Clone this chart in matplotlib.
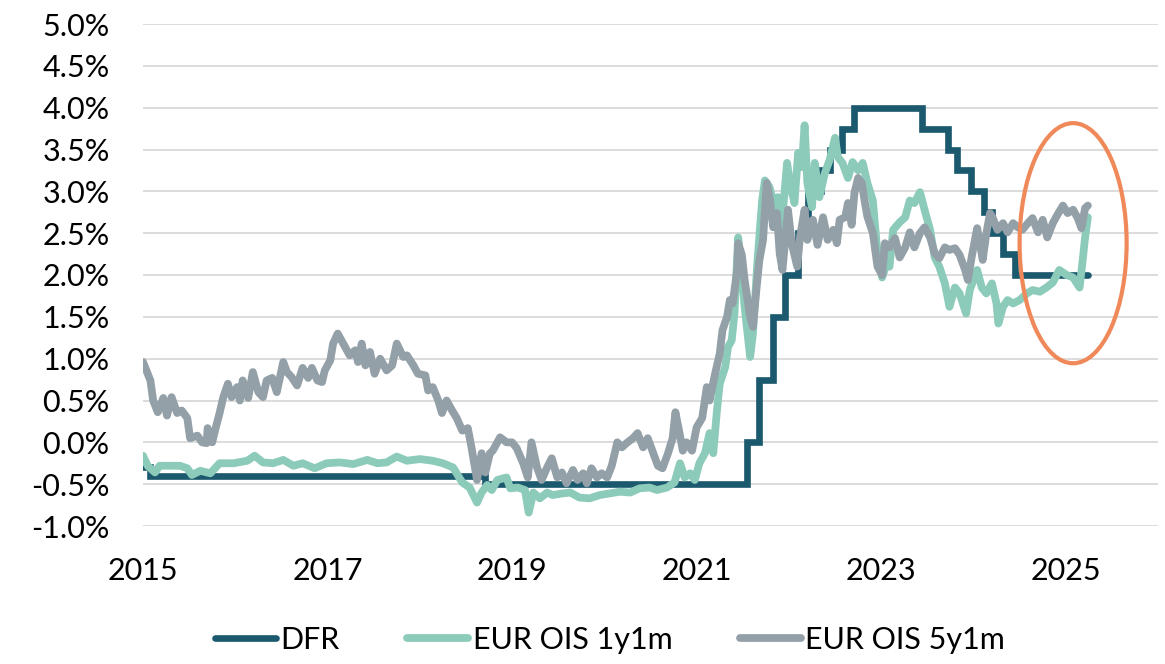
import matplotlib
matplotlib.use("Agg")
import matplotlib.pyplot as plt
from matplotlib.patches import Ellipse
import numpy as np

# deposit facility rate: step start (chart years) and level in %
dfr_dates = [2015.00, 2015.08, 2018.71, 2021.55, 2021.68, 2021.83, 2021.96, 2022.10,
             2022.21, 2022.35, 2022.45, 2022.57, 2022.70, 2023.44, 2023.72, 2023.82,
             2023.97, 2024.11, 2024.20, 2024.32, 2024.45, 2025.24]
dfr_rates = [-0.3, -0.4, -0.5, 0.0, 0.75, 1.5, 2.0, 2.5,
             3.0, 3.25, 3.5, 3.75, 4.0, 3.75, 3.5, 3.25,
             3.0, 2.75, 2.5, 2.25, 2.0, 2.0]

ois1_dates = [2015.00, 2015.05, 2015.13, 2015.18, 2015.29, 2015.40, 2015.48, 2015.53, 2015.62, 2015.73,
              2015.83, 2015.98, 2016.13, 2016.21, 2016.30, 2016.41, 2016.52, 2016.63, 2016.73, 2016.86,
              2016.99, 2017.13, 2017.28, 2017.43, 2017.54, 2017.64, 2017.75, 2017.86, 2018.00, 2018.14,
              2018.25, 2018.36, 2018.46, 2018.54, 2018.62, 2018.67, 2018.73, 2018.78, 2018.84, 2018.94,
              2018.98, 2019.06, 2019.14, 2019.18, 2019.23, 2019.30, 2019.38, 2019.44, 2019.55, 2019.63,
              2019.73, 2019.84, 2019.95, 2020.06, 2020.17, 2020.28, 2020.38, 2020.49, 2020.57, 2020.68,
              2020.76, 2020.82, 2020.87, 2020.93, 2020.98, 2021.03, 2021.09, 2021.14, 2021.18, 2021.22,
              2021.25, 2021.31, 2021.34, 2021.38, 2021.41, 2021.45, 2021.49, 2021.52, 2021.58, 2021.61,
              2021.66, 2021.71, 2021.74, 2021.79, 2021.85, 2021.88, 2021.92, 2021.98, 2022.01, 2022.06,
              2022.10, 2022.14, 2022.17, 2022.20, 2022.25, 2022.28, 2022.33, 2022.39, 2022.44, 2022.50,
              2022.53, 2022.58, 2022.64, 2022.69, 2022.75, 2022.80, 2022.85, 2022.91, 2022.95, 2023.01,
              2023.06, 2023.09, 2023.13, 2023.20, 2023.26, 2023.31, 2023.36, 2023.42, 2023.47, 2023.53,
              2023.58, 2023.63, 2023.69, 2023.74, 2023.80, 2023.85, 2023.92, 2023.96, 2024.04, 2024.09,
              2024.14, 2024.20, 2024.25, 2024.27, 2024.32, 2024.37, 2024.43, 2024.50, 2024.58, 2024.64,
              2024.72, 2024.79, 2024.86, 2024.93, 2025.01, 2025.08, 2025.15, 2025.18, 2025.21, 2025.24]
ois1_rates = [-0.16, -0.28, -0.36, -0.28, -0.28, -0.28, -0.31, -0.39, -0.34, -0.37,
              -0.25, -0.25, -0.22, -0.16, -0.24, -0.25, -0.21, -0.28, -0.25, -0.31,
              -0.25, -0.24, -0.26, -0.21, -0.25, -0.24, -0.17, -0.22, -0.20, -0.22,
              -0.25, -0.30, -0.48, -0.54, -0.72, -0.60, -0.51, -0.57, -0.45, -0.42,
              -0.55, -0.54, -0.57, -0.84, -0.60, -0.67, -0.60, -0.63, -0.61, -0.60,
              -0.66, -0.67, -0.63, -0.61, -0.59, -0.60, -0.55, -0.54, -0.57, -0.54,
              -0.48, -0.25, -0.42, -0.37, -0.45, -0.25, -0.13, 0.11, -0.13, 0.38,
              0.70, 0.90, 1.14, 1.22, 1.54, 2.45, 2.02, 1.62, 1.02, 1.30,
              2.18, 2.89, 3.13, 3.05, 2.78, 2.93, 2.57, 3.34, 3.10, 2.86,
              3.46, 3.29, 3.79, 3.10, 2.81, 3.34, 2.93, 3.22, 3.37, 3.64,
              3.41, 3.34, 3.16, 3.35, 3.25, 3.34, 3.10, 2.89, 2.38, 1.97,
              2.14, 2.10, 2.54, 2.63, 2.69, 2.89, 2.86, 2.99, 2.78, 2.54,
              2.21, 2.10, 1.90, 1.62, 1.85, 1.78, 1.54, 1.82, 2.06, 1.85,
              1.78, 1.90, 1.66, 1.42, 1.62, 1.70, 1.66, 1.70, 1.78, 1.82,
              1.80, 1.85, 1.91, 2.06, 2.00, 1.97, 1.85, 2.14, 2.45, 2.69]

ois5_dates = [2015.00, 2015.08, 2015.11, 2015.16, 2015.22, 2015.26, 2015.31, 2015.37, 2015.42, 2015.48,
              2015.51, 2015.59, 2015.64, 2015.69, 2015.70, 2015.75, 2015.78, 2015.83, 2015.87, 2015.92,
              2015.96, 2016.02, 2016.05, 2016.08, 2016.14, 2016.19, 2016.25, 2016.30, 2016.34, 2016.40,
              2016.45, 2016.52, 2016.56, 2016.61, 2016.67, 2016.73, 2016.79, 2016.83, 2016.89, 2016.94,
              2016.97, 2017.03, 2017.06, 2017.11, 2017.17, 2017.24, 2017.30, 2017.33, 2017.37, 2017.41,
              2017.46, 2017.51, 2017.57, 2017.64, 2017.70, 2017.75, 2017.82, 2017.86, 2017.93, 2017.98,
              2018.06, 2018.09, 2018.14, 2018.20, 2018.24, 2018.29, 2018.35, 2018.40, 2018.46, 2018.52,
              2018.56, 2018.62, 2018.67, 2018.71, 2018.76, 2018.79, 2018.87, 2018.94, 2019.00, 2019.05,
              2019.12, 2019.17, 2019.21, 2019.27, 2019.32, 2019.38, 2019.43, 2019.49, 2019.54, 2019.59,
              2019.66, 2019.71, 2019.77, 2019.81, 2019.86, 2019.92, 2019.97, 2020.03, 2020.08, 2020.14,
              2020.19, 2020.24, 2020.31, 2020.36, 2020.42, 2020.47, 2020.53, 2020.58, 2020.63, 2020.69,
              2020.74, 2020.77, 2020.82, 2020.85, 2020.89, 2020.95, 2021.00, 2021.06, 2021.11, 2021.14,
              2021.20, 2021.25, 2021.28, 2021.33, 2021.36, 2021.39, 2021.44, 2021.45, 2021.49, 2021.52,
              2021.58, 2021.61, 2021.65, 2021.68, 2021.72, 2021.74, 2021.76, 2021.79, 2021.83, 2021.87,
              2021.90, 2021.93, 2021.99, 2022.03, 2022.09, 2022.12, 2022.17, 2022.20, 2022.26, 2022.31,
              2022.37, 2022.42, 2022.48, 2022.52, 2022.55, 2022.61, 2022.64, 2022.68, 2022.71, 2022.75,
              2022.79, 2022.82, 2022.85, 2022.91, 2022.96, 2023.01, 2023.04, 2023.09, 2023.15, 2023.20,
              2023.26, 2023.31, 2023.36, 2023.42, 2023.47, 2023.53, 2023.58, 2023.63, 2023.69, 2023.74,
              2023.80, 2023.85, 2023.91, 2023.94, 2023.98, 2024.04, 2024.07, 2024.10, 2024.14, 2024.18,
              2024.21, 2024.26, 2024.32, 2024.37, 2024.43, 2024.48, 2024.53, 2024.59, 2024.64, 2024.70,
              2024.75, 2024.80, 2024.86, 2024.91, 2024.97, 2025.02, 2025.08, 2025.13, 2025.17, 2025.21,
              2025.24]
ois5_rates = [0.96, 0.74, 0.50, 0.36, 0.53, 0.32, 0.54, 0.35, 0.38, 0.29,
              0.05, 0.08, 0.00, -0.01, 0.17, 0.00, 0.14, 0.35, 0.54, 0.70,
              0.54, 0.66, 0.50, 0.74, 0.53, 0.84, 0.60, 0.54, 0.74, 0.77,
              0.60, 0.96, 0.84, 0.78, 0.68, 0.89, 0.77, 0.89, 0.74, 0.72,
              0.86, 0.98, 1.18, 1.30, 1.18, 1.04, 1.10, 0.96, 1.18, 0.92,
              1.08, 0.82, 1.00, 0.86, 0.92, 1.18, 1.02, 1.04, 0.92, 0.82,
              0.80, 0.62, 0.66, 0.50, 0.35, 0.50, 0.38, 0.29, 0.14, 0.17,
              -0.06, -0.45, -0.13, -0.36, -0.13, -0.10, 0.06, 0.00, 0.00, -0.07,
              -0.25, -0.42, 0.00, -0.30, -0.45, -0.30, -0.19, -0.42, -0.36, -0.49,
              -0.33, -0.45, -0.37, -0.49, -0.31, -0.42, -0.37, -0.42, -0.28, 0.00,
              -0.06, -0.01, 0.05, 0.11, -0.06, 0.05, -0.13, -0.28, -0.31, -0.13,
              0.05, 0.36, 0.08, -0.10, 0.00, -0.10, 0.18, 0.29, 0.66, 0.50,
              0.82, 1.06, 1.34, 1.50, 1.70, 1.66, 2.06, 2.38, 2.24, 1.94,
              1.50, 1.38, 1.85, 2.18, 2.42, 2.78, 3.10, 2.93, 2.57, 2.74,
              2.26, 2.06, 2.78, 2.38, 2.10, 2.45, 2.78, 2.42, 2.66, 2.36,
              2.69, 2.42, 2.54, 2.38, 2.66, 2.69, 2.86, 2.60, 2.98, 3.16,
              3.10, 2.89, 2.70, 2.50, 2.10, 2.00, 2.38, 2.33, 2.44, 2.21,
              2.33, 2.51, 2.33, 2.50, 2.57, 2.45, 2.26, 2.20, 2.33, 2.30,
              2.32, 2.24, 2.06, 1.94, 2.21, 2.56, 2.38, 2.18, 2.50, 2.74,
              2.68, 2.54, 2.62, 2.51, 2.62, 2.57, 2.54, 2.62, 2.68, 2.51,
              2.66, 2.45, 2.62, 2.72, 2.83, 2.74, 2.78, 2.68, 2.56, 2.80,
              2.83]

year_ticks = [2015, 2017, 2019, 2021, 2023, 2025]
pct_ticks = np.arange(-1.0, 5.01, 0.5)

# highlight ellipse around the latest moves
circle_center = (2025.08, 2.38)
circle_size = (1.16, 2.87)

dfr_color = "#1B5A6E"
ois1_color = "#8CCBBA"
ois5_color = "#94A0A8"

plt.rcParams['font.family'] = ['Lato', 'DejaVu Sans']

fig = plt.figure(figsize=(11.65, 6.64), dpi=100)
ax = fig.add_axes([143 / 1165, 1 - 526 / 664, (1158 - 143) / 1165, (526 - 24) / 664])

ax.step(dfr_dates, dfr_rates, where='post', color=dfr_color, lw=4.8,
        solid_capstyle='round', solid_joinstyle='miter', label="DFR", zorder=3)
ax.plot(ois1_dates, ois1_rates, color=ois1_color, lw=5.6,
        solid_capstyle='round', solid_joinstyle='round', label="EUR OIS 1y1m", zorder=4)
ax.plot(ois5_dates, ois5_rates, color=ois5_color, lw=5.6,
        solid_capstyle='round', solid_joinstyle='round', label="EUR OIS 5y1m", zorder=5)

ax.add_patch(Ellipse(circle_center, circle_size[0], circle_size[1], fill=False,
                     edgecolor="#F0895A", lw=3, zorder=6))

ax.set_xlim(2015, 2026)
ax.set_ylim(-1.0, 5.0)
ax.set_xticks(year_ticks)
ax.set_xticklabels([str(y) for y in year_ticks])
ax.set_yticks(pct_ticks)
ax.set_yticklabels(["%.1f%%" % v for v in pct_ticks])
ax.tick_params(axis='both', length=0, labelsize=22, colors='black')
ax.tick_params(axis='y', pad=24)
ax.tick_params(axis='x', pad=22)
ax.grid(axis='y', color='#D9D9D9', lw=1.3, zorder=0)
ax.set_axisbelow(True)
for s in ax.spines.values():
    s.set_visible(False)

fig.legend(loc='center', bbox_to_anchor=(610 / 1165, 1 - 640 / 664), ncol=3,
           frameon=False, fontsize=22, handlelength=2.0, handletextpad=0.15,
           columnspacing=2.2)

fig.savefig("out.png", dpi=100)
